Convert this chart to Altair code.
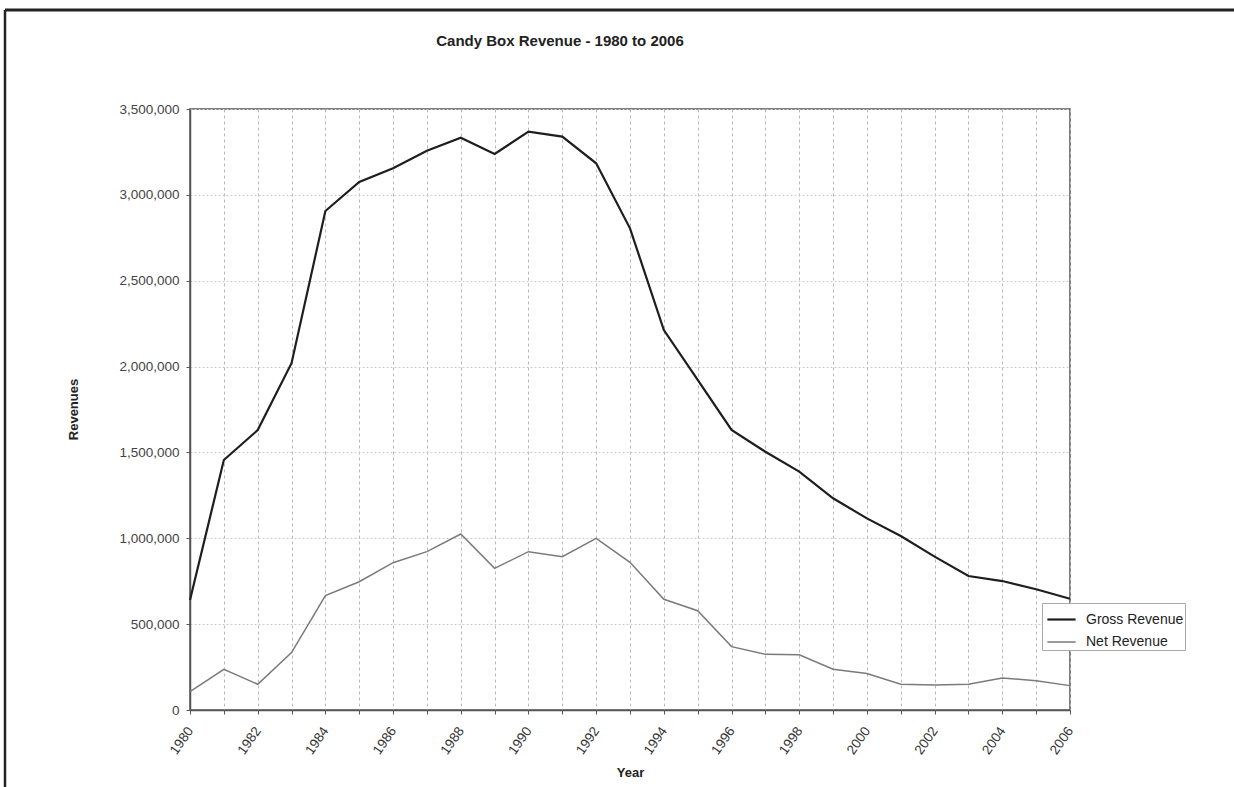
import altair as alt
import pandas as pd

years = list(range(1980, 2007))
gross = [640000, 1456000, 1630000, 2020000, 2906000, 3075000, 3155000, 3257000, 3333000, 3238000,
         3368000, 3339000, 3184000, 2805000, 2213000, 1922000, 1631000, 1504000, 1388000, 1233000,
         1116000, 1013000, 893000, 780000, 751000, 703000, 648000]
net = [107000, 237000, 150000, 334000, 666000, 747000, 858000, 922000, 1025000, 825000,
       922000, 893000, 1000000, 860000, 645000, 578000, 369000, 324000, 322000, 237000,
       212000, 150000, 146000, 150000, 186000, 171000, 142000]
series = ["Gross Revenue", "Net Revenue"]
colors = ["#1e1e1e", "#7a7a7a"]
title_text = "Candy Box Revenue - 1980 to 2006"

df = pd.DataFrame({
    "Year": years * 2,
    "Revenue": gross + net,
    "Series": [series[0]] * len(years) + [series[1]] * len(years),
})

FONT = "Liberation Sans"

lines = alt.Chart(df).mark_line(clip=False).encode(
    x=alt.X("Year:Q",
            scale=alt.Scale(domain=[1980, 2006], nice=False, zero=False),
            axis=alt.Axis(values=years, format="d",
                          labelExpr="datum.value % 2 == 0 ? datum.label : ''",
                          labelAngle=-55, labelAlign="right", labelBaseline="middle",
                          labelPadding=14, labelFontSize=13.5, labelColor="#333",
                          tickSize=4, tickColor="#555",
                          domainColor="#555", domainWidth=1.5,
                          grid=True, gridColor="#b8b8b8", gridDash=[3, 3], gridWidth=1,
                          title="Year", titleFontSize=13, titleFontWeight="bold",
                          titleColor="#222", titleY=62, titleBaseline="middle")),
    y=alt.Y("Revenue:Q",
            scale=alt.Scale(domain=[0, 3500000], nice=False),
            axis=alt.Axis(values=[0, 500000, 1000000, 1500000, 2000000, 2500000, 3000000, 3500000],
                          format=",d", labelFontSize=13.5, labelColor="#444", labelPadding=7,
                          tickSize=4, tickColor="#555",
                          domainColor="#555", domainWidth=1.5,
                          grid=True, gridColor="#cccccc", gridDash=[2, 2], gridWidth=1,
                          title="Revenues", titleFontSize=13, titleFontWeight="bold",
                          titleColor="#222", titleAngle=-90, titleX=-117, titleY=300,
                          titleAlign="center", titleBaseline="middle")),
    color=alt.Color("Series:N",
                    scale=alt.Scale(domain=series, range=colors),
                    legend=alt.Legend(title=None, orient="none", legendX=852, legendY=494,
                                      symbolType="stroke", symbolSize=800,
                                      symbolStrokeWidth=2, labelFontSize=14,
                                      labelColor="#222", strokeColor="#aaa",
                                      fillColor="white", padding=1, rowPadding=0,
                                      symbolOffset=3, labelOffset=9)),
    strokeWidth=alt.StrokeWidth("Series:N",
                                scale=alt.Scale(domain=series, range=[2.2, 1.5]),
                                legend=None),
)

one = pd.DataFrame({"t": [title_text]})
title_mark = alt.Chart(one).mark_text(
    font=FONT, fontSize=15, fontWeight="bold", color="#222",
    align="center", baseline="middle").encode(
    text="t:N", x=alt.value(370), y=alt.value(-68))

top_border = alt.Chart(one).mark_rule(color="#222", strokeWidth=3, clip=False).encode(
    x=alt.value(-185), x2=alt.value(1044), y=alt.value(-99))
left_border = alt.Chart(one).mark_rule(color="#222", strokeWidth=2.5, clip=False).encode(
    x=alt.value(-185), y=alt.value(-99), y2=alt.value(678))

chart = alt.layer(lines, title_mark, top_border, left_border).properties(
    width=880, height=601,
    autosize=alt.AutoSizeParams(type="none"),
    padding={"left": 190, "top": 109, "right": 164, "bottom": 77},
    background="white",
).configure(font=FONT).configure_view(stroke="#555", strokeWidth=1.5).configure_axis(
    labelFont=FONT, titleFont=FONT).configure_legend(labelFont=FONT)

chart.save("out.html", embed_options={"renderer": "svg", "actions": False})
